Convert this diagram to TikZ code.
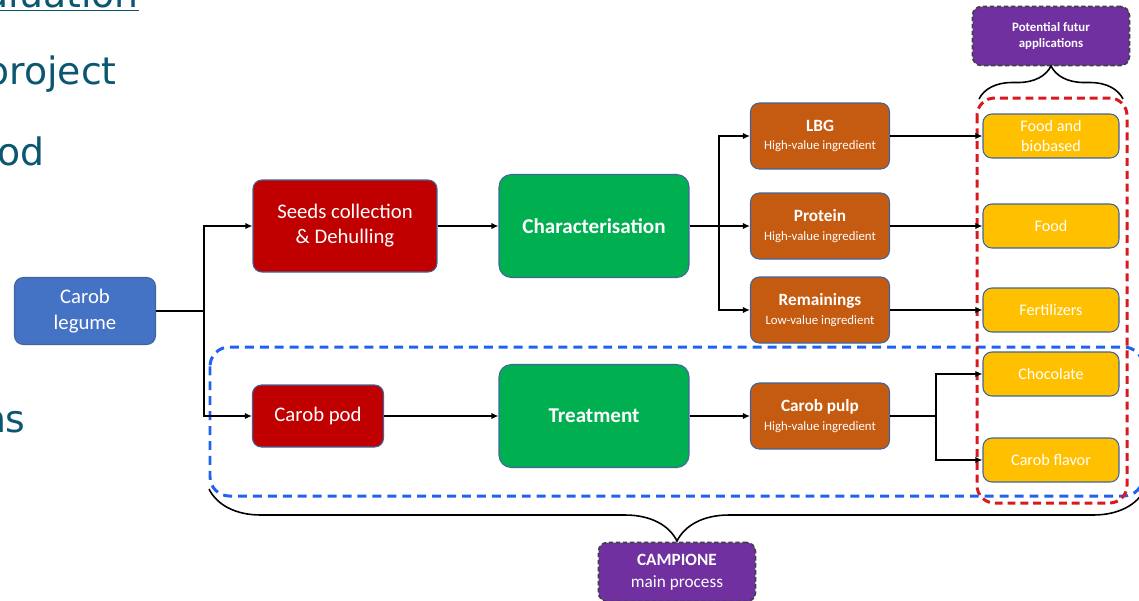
\documentclass[tikz,border=0pt]{standalone}
\usepackage{fontspec}
\setmainfont{Carlito}
\newfontfamily\slidefont{DejaVu Sans}
\usetikzlibrary{arrows.meta,decorations.pathreplacing}
\definecolor{bordo}{HTML}{41659A}
\definecolor{legblue}{HTML}{4472C4}
\definecolor{podred}{HTML}{C00000}
\definecolor{procgreen}{HTML}{00B050}
\definecolor{ingorange}{HTML}{C55A11}
\definecolor{appyellow}{HTML}{FFC000}
\definecolor{tagpurple}{HTML}{7030A0}
\definecolor{zoneblue}{HTML}{1F62F2}
\definecolor{zonered}{HTML}{D71920}
\definecolor{slideteal}{HTML}{0B5670}

\begin{document}
\begin{tikzpicture}[
    x=0.02cm, y=-0.02cm,
    box/.style={draw=bordo, line width=0.6pt, rounded corners=5pt, text=white, align=center, inner sep=2pt},
    sourcebox/.style={box, fill=legblue, minimum width=2.82cm, minimum height=1.34cm, font=\fontsize{11.8}{14.6}\selectfont},
    stepbox/.style={box, fill=podred, minimum height=1.84cm, font=\fontsize{11.8}{14.2}\selectfont},
    procbox/.style={box, fill=procgreen, rounded corners=7pt, minimum width=3.8cm, minimum height=2.06cm, font=\fontsize{12}{14}\selectfont\bfseries},
    ingbox/.style={box, fill=ingorange, minimum width=2.78cm, minimum height=1.32cm, font=\fontsize{9.8}{10.5}\selectfont\bfseries},
    appbox/.style={box, fill=appyellow, minimum width=2.72cm, minimum height=0.88cm, font=\fontsize{9.2}{11}\selectfont},
    tagbox/.style={box, fill=tagpurple, draw=black!75, dash pattern=on 2.5pt off 1.5pt, line width=0.9pt, minimum width=3.14cm, minimum height=1.18cm},
    conn/.style={draw=black, line width=1.1pt, -{Latex[length=4pt,width=3.6pt]}},
    bracket/.style={draw=black, line width=0.9pt, decorate, decoration={brace}},
    slide/.style={text=slideteal, font=\slidefont\fontsize{21.5}{24}\selectfont, inner sep=0pt, anchor=base east}
]
    \useasboundingbox (0,0) rectangle (1139,600);
    \clip (0,0) rectangle (1139,600);

    % Resti della slide (tagliati a sinistra)
    \node[slide] (t0) at (139,7) {\underline{Evaluation}};
    \node[slide] (t1) at (117,84) {project};
    \node[slide] (t2) at (45,165) {od};
    \node[slide] (t3) at (26,432) {ns};

    % Zone tratteggiate, disegnate prima dei nodi
    \draw[zoneblue, line width=1.7pt, dash pattern=on 5.1pt off 3.4pt, rounded corners=11pt] (210,347) rectangle (1143,496);
    \draw[zonered, line width=1.7pt, dash pattern=on 4.5pt off 2.8pt, rounded corners=10pt] (977,98) rectangle (1127,503);

    % Colonna 0
    \node[sourcebox] (legume) at (85,311) {Carob\\legume};

    % Colonna 1
    \node[stepbox, minimum width=3.68cm] (seeds) at (345,226) {Seeds collection\\\& Dehulling};
    \node[stepbox, minimum width=2.62cm, minimum height=1.24cm] (pod) at (318,416) {Carob pod};

    % Colonna 2
    \node[procbox] (charac) at (594,226) {Characterisation};
    \node[procbox] (treat) at (594,416) {Treatment};

    % Colonna 3
    \node[ingbox] (lbg) at (820,136) {LBG\\{\fontsize{7.3}{8}\selectfont\mdseries High-value ingredient}};
    \node[ingbox] (protein) at (820,226) {Protein\\{\fontsize{7.3}{8}\selectfont\mdseries High-value ingredient}};
    \node[ingbox] (remain) at (820,310) {Remainings\\{\fontsize{7.3}{8}\selectfont\mdseries Low-value ingredient}};
    \node[ingbox] (pulp) at (820,416) {Carob pulp\\{\fontsize{7.3}{8}\selectfont\mdseries High-value ingredient}};

    % Colonna 4
    \node[appbox] (foodbio) at (1051,136) {Food and\\biobased};
    \node[appbox] (food) at (1051,226) {Food};
    \node[appbox] (fert) at (1051,310) {Fertilizers};
    \node[appbox] (choc) at (1051,374) {Chocolate};
    \node[appbox] (flavor) at (1051,460) {Carob flavor};

    % Etichette
    \node[tagbox, font=\fontsize{7.3}{9}\selectfont\bfseries] (futur) at (1051,36) {Potential futur\\applications};
    \node[tagbox, font=\fontsize{9.8}{12.5}\selectfont] (campione) at (677,572) {\textbf{CAMPIONE}\\main process};

    % Collegamenti
    \coordinate (jl) at (204,311);
    \coordinate (jc) at (719,226);
    \coordinate (jp) at (936,416);

    \draw[conn] (legume.east) -- (jl) |- (seeds.west);
    \draw[conn] (jl) |- (pod.west);
    \draw[conn] (seeds) -- (charac);
    \draw[conn] (pod) -- (treat);
    \draw[conn] (charac.east) -- (jc) |- (lbg.west);
    \draw[conn] (jc) |- (protein.west);
    \draw[conn] (jc) |- (remain.west);
    \draw[conn] (treat) -- (pulp);
    \draw[conn] (lbg) -- (foodbio);
    \draw[conn] (protein) -- (food);
    \draw[conn] (remain) -- (fert);
    \draw[conn] (pulp.east) -- (jp) |- (choc.west);
    \draw[conn] (jp) |- (flavor.west);

    % Graffe
    \coordinate (ba) at (979,99);
    \coordinate (bb) at (1123,99);
    \coordinate (bc) at (1145,489);
    \coordinate (bd) at (209,489);
    \draw[bracket, decoration={amplitude=0.66cm}] (ba) -- (bb);
    \draw[bracket, decoration={amplitude=1.04cm}] (bc) -- (bd);
\end{tikzpicture}
\end{document}
